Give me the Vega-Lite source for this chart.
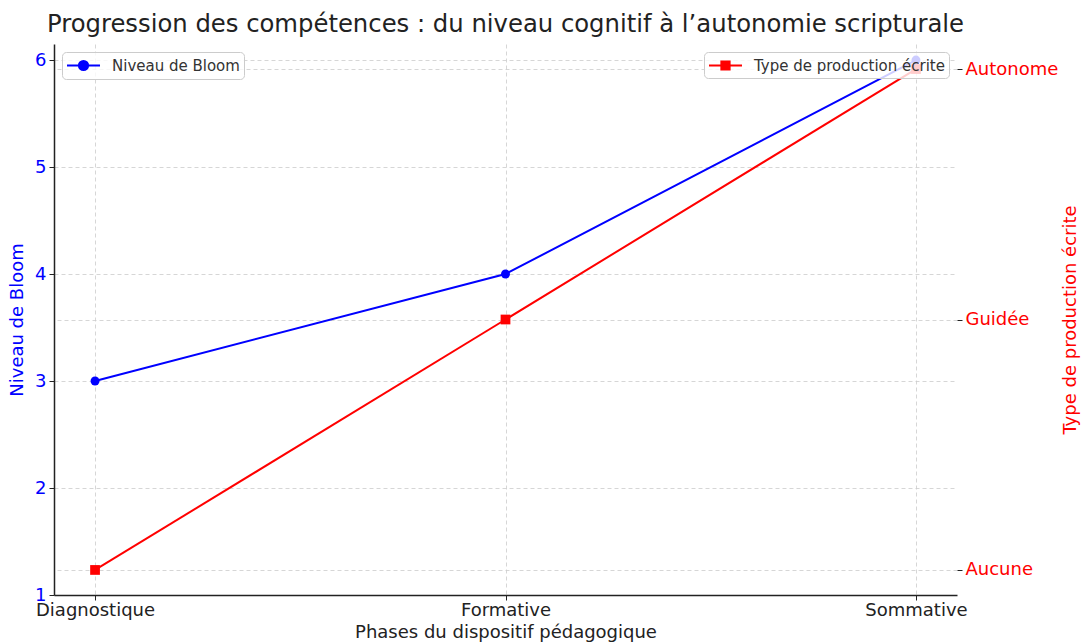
{
  "$schema": "https://vega.github.io/schema/vega-lite/v6.json",
  "width": 903,
  "height": 551,
  "autosize": "none",
  "padding": {"left": 54, "top": 44, "right": 126, "bottom": 49},
  "background": "white",
  "title": {
    "text": "Progression des compétences : du niveau cognitif à l’autonomie scripturale",
    "fontSize": 24.3,
    "font": "DejaVu Sans",
    "fontWeight": "normal",
    "color": "#222222",
    "anchor": "middle",
    "offset": 7
  },
  "config": {
    "font": "DejaVu Sans",
    "view": {"stroke": null},
    "axis": {
      "labelFont": "DejaVu Sans",
      "titleFont": "DejaVu Sans",
      "labelFontSize": 18,
      "titleFontSize": 18,
      "titleFontWeight": "normal",
      "tickSize": 5,
      "tickColor": "#222222",
      "domainColor": "#222222",
      "domainWidth": 1.5,
      "gridColor": "#cccccc",
      "gridDash": [4, 3],
      "gridWidth": 0.8
    },
    "legend": {
      "labelFont": "DejaVu Sans",
      "labelFontSize": 15,
      "labelColor": "#333333",
      "labelLimit": 0,
      "fillColor": "rgba(255,255,255,0.8)",
      "strokeColor": "#cccccc",
      "cornerRadius": 4,
      "padding": 4,
      "symbolSize": 272,
      "symbolOffset": 8,
      "symbolStrokeWidth": 2,
      "labelOffset": 19,
      "title": null
    }
  },
  "data": {
    "values": [
      {"phase": "Diagnostique", "bloom": 3, "production": "Aucune"},
      {"phase": "Formative", "bloom": 4, "production": "Guidée"},
      {"phase": "Sommative", "bloom": 6, "production": "Autonome"}
    ]
  },
  "encoding": {
    "x": {
      "field": "phase",
      "type": "nominal",
      "sort": ["Diagnostique", "Formative", "Sommative"],
      "scale": {"type": "point", "padding": 0.1},
      "axis": {
        "title": "Phases du dispositif pédagogique",
        "labelAngle": 0,
        "labelColor": "#222222",
        "titleColor": "#222222",
        "labelPadding": 1,
        "titlePadding": 4,
        "grid": true
      }
    }
  },
  "layer": [
    {
      "mark": {
        "type": "line",
        "strokeWidth": 2,
        "point": {"filled": true, "size": 80, "shape": "circle"}
      },
      "encoding": {
        "y": {
          "field": "bloom",
          "type": "quantitative",
          "scale": {"domain": [1, 6.15], "nice": false, "zero": false},
          "axis": {
            "orient": "left",
            "title": "Niveau de Bloom",
            "values": [1, 2, 3, 4, 5, 6],
            "labelColor": "#0000ff",
            "titleColor": "#0000ff",
            "labelPadding": 3,
            "titlePadding": 8,
            "grid": true
          }
        },
        "color": {
          "datum": "Niveau de Bloom",
          "scale": {"domain": ["Niveau de Bloom"], "range": ["#0000ff"]},
          "legend": {
            "orient": "top-left",
            "offset": 8,
            "symbolType": "M-2,0L2,0M-0.56,0a0.56,0.56 0 1,0 1.12,0a0.56,0.56 0 1,0 -1.12,0",
            "symbolFillColor": "#0000ff",
            "symbolStrokeColor": "#0000ff"
          }
        }
      }
    },
    {
      "mark": {
        "type": "line",
        "strokeWidth": 2,
        "point": {"filled": true, "size": 95, "shape": "square"}
      },
      "encoding": {
        "y": {
          "field": "production",
          "type": "nominal",
          "scale": {"type": "point", "domain": ["Autonome", "Guidée", "Aucune"], "padding": 0.1},
          "axis": {
            "orient": "right",
            "title": "Type de production écrite",
            "titleAngle": 270,
            "labelColor": "#ff0000",
            "titleColor": "#ff0000",
            "domain": false,
            "labelPadding": 3,
            "titlePadding": 22,
            "grid": true
          }
        },
        "color": {
          "datum": "Type de production écrite",
          "scale": {"domain": ["Type de production écrite"], "range": ["#ff0000"]},
          "legend": {
            "orient": "top-right",
            "offset": 8,
            "symbolType": "M-2,0L2,0M-0.5,-0.5h1v1h-1z",
            "symbolFillColor": "#ff0000",
            "symbolStrokeColor": "#ff0000"
          }
        }
      }
    }
  ],
  "resolve": {"scale": {"y": "independent", "color": "independent"}}
}
